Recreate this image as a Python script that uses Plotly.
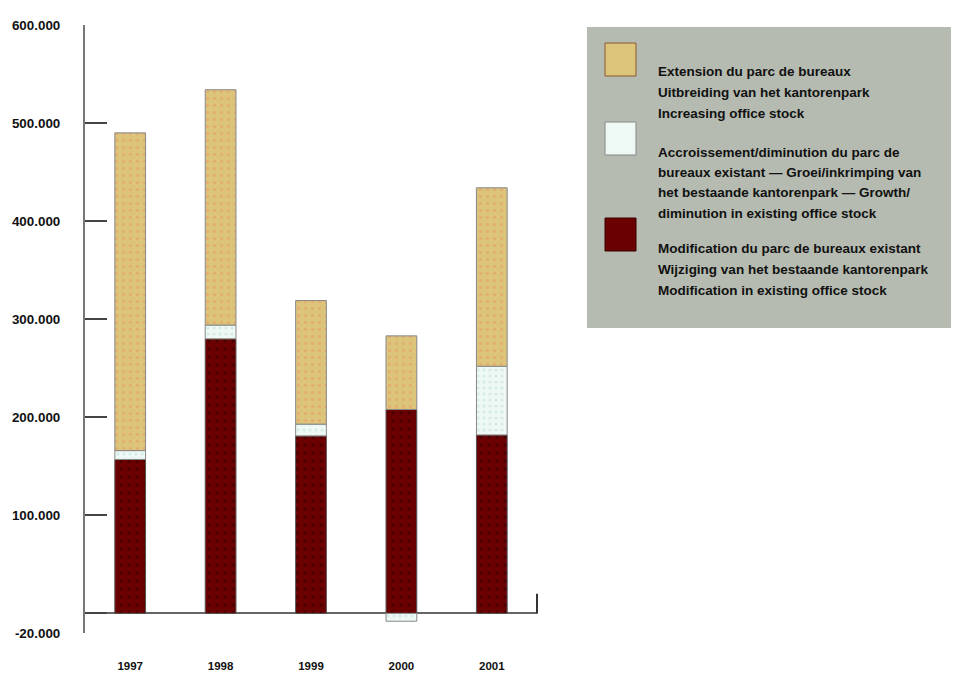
import plotly.graph_objects as go

years = ["1997", "1998", "1999", "2000", "2001"]
modification = [157000, 280000, 181000, 208000, 182000]
growth = [9000, 14000, 12000, -8000, 70000]
extension = [324000, 240000, 126000, 75000, 182000]

y_tickvals = [-20000, 0, 100000, 200000, 300000, 400000, 500000, 600000]
y_ticktext = ["-20.000", "", "100.000", "200.000", "300.000", "400.000", "500.000", "600.000"]

legend_items = [
    ["Extension du parc de bureaux",
     "Uitbreiding van het kantorenpark",
     "Increasing office stock"],
    ["Accroissement/diminution du parc de",
     "bureaux existant \u2014 Groei/inkrimping van",
     "het bestaande kantorenpark \u2014 Growth/",
     "diminution in existing office stock"],
    ["Modification du parc de bureaux existant",
     "Wijziging van het bestaande kantorenpark",
     "Modification in existing office stock"],
]

TAN = "#dcc57a"
WHITE = "#eef8f5"
DARK = "#6a0000"
FONT = "Liberation Sans, Arial, sans-serif"

# the page body has an 8px margin, so the figure is made smaller and shifted
OFF = 8
W, H = 959 - OFF, 675 - OFF
L, R, T, B = 85 - OFF, 537 - OFF, 25 - OFF, 633 - OFF


def px_x(px):
    return (px - OFF - L) / (R - L)


def px_y(py):
    return (B - (py - OFF)) / (B - T)


fig = go.Figure()
fig.add_bar(x=years, y=modification, name="Modification",
            marker=dict(color=DARK, line=dict(color="#555", width=1),
                        pattern=dict(shape=".", fgcolor="#2a0000", size=8, solidity=0.15)))
fig.add_bar(x=years, y=growth, name="Growth",
            marker=dict(color=WHITE, line=dict(color="#888", width=1),
                        pattern=dict(shape=".", fgcolor="#b8e0d8", size=6, solidity=0.2)))
fig.add_bar(x=years, y=extension, name="Extension",
            marker=dict(color=TAN, line=dict(color="#888", width=1),
                        pattern=dict(shape=".", fgcolor="#e89a6a", size=7, solidity=0.2)))

shapes = []
annotations = []

# right end tick of the zero line
shapes.append(dict(type="line", xref="paper", yref="y", x0=1, x1=1, y0=0, y1=20000,
                   line=dict(color="#333", width=2)))

# legend box
shapes.append(dict(type="rect", xref="paper", yref="paper",
                   x0=px_x(587), x1=px_x(962), y0=px_y(328), y1=px_y(27),
                   fillcolor="#b5bbb0", line=dict(width=0), layer="below"))

sq_tops = [43, 122, 218]
sq_colors = [TAN, WHITE, DARK]
sq_lines = ["#8a5a30", "#888", "#3a0000"]
text_rows = [[72, 92, 113], [152, 172, 193, 213], [248, 269, 290]]
for top, col, lc, item, rows in zip(sq_tops, sq_colors, sq_lines, legend_items, text_rows):
    shapes.append(dict(type="rect", xref="paper", yref="paper",
                       x0=px_x(605), x1=px_x(636), y0=px_y(top + 33), y1=px_y(top),
                       fillcolor=col, line=dict(color=lc, width=1)))
    for line_text, row in zip(item, rows):
        annotations.append(dict(xref="paper", yref="paper", x=px_x(656), y=px_y(row),
                                text="<b>" + line_text + "</b>", showarrow=False,
                                xanchor="left", yanchor="middle",
                                font=dict(family=FONT, size=13.5, color="#111")))

fig.update_layout(
    width=W, height=H,
    margin=dict(l=L, r=W - R, t=T, b=H - B),
    barmode="relative",
    bargap=0.66,
    plot_bgcolor="white",
    paper_bgcolor="white",
    showlegend=False,
    shapes=shapes,
    annotations=annotations,
    font=dict(family=FONT, size=13, color="#111"),
)
fig.update_yaxes(
    range=[-20000, 600000],
    tickvals=y_tickvals, ticktext=["<b>" + t + "</b>" if t else "" for t in y_ticktext],
    ticks="inside", ticklen=22, tickwidth=2, tickcolor="#444",
    showgrid=False, showline=True, linecolor="#777", linewidth=2,
    zeroline=True, zerolinecolor="#666", zerolinewidth=2,
    ticklabelstandoff=20,
    tickfont=dict(family=FONT, size=13.4, color="#111"),
    automargin=False,
)
fig.update_xaxes(
    tickvals=years, ticktext=["<b>" + y + "</b>" for y in years],
    showgrid=False, showline=False, ticks="",
    ticklabelstandoff=24,
    tickfont=dict(family=FONT, size=11.5, color="#111"),
    automargin=False,
)

fig.write_html("out.html")
